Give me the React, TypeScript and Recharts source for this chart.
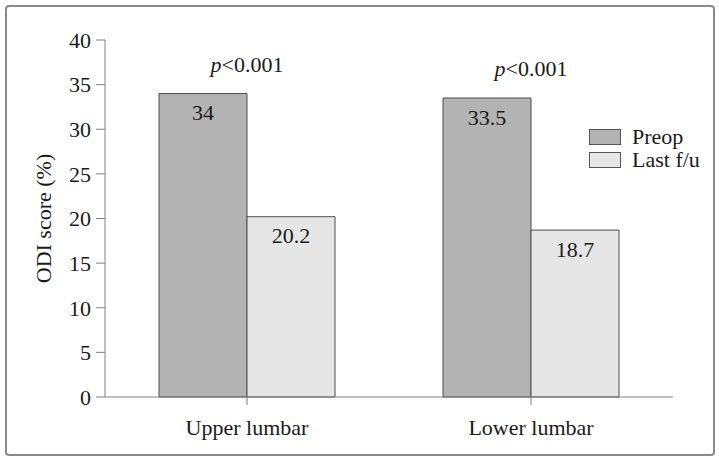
import React from 'react';
import { BarChart, Bar, XAxis, YAxis, Legend, LabelList, Label } from 'recharts';

const categories = ['Upper lumbar', 'Lower lumbar'];
const preopScores = [34, 33.5];
const lastFuScores = [20.2, 18.7];
const pLabels = ['<0.001', '<0.001'];
const yTicks = [0, 5, 10, 15, 20, 25, 30, 35, 40];

const FONT = '"Liberation Serif", "DejaVu Serif", serif';
const TEXT = '#1a1a1a';
const AXIS = '#808080';
const FS = 22;

const data = categories.map((name, i) => ({
  name,
  preop: preopScores[i],
  lastFu: lastFuScores[i],
  p: pLabels[i],
}));

const legendItems = [
  { label: 'Preop', color: '#b3b3b3' },
  { label: 'Last f/u', color: '#e6e6e6' },
];

function PLabel(props: any) {
  const { x, y, width, value } = props;
  return (
    <text x={x + width} y={y - 22} textAnchor="middle" fontFamily={FONT} fontSize={FS} fill={TEXT}>
      <tspan fontStyle="italic">p</tspan>
      {value}
    </text>
  );
}

function YTitle(props: any) {
  const { viewBox } = props;
  const cx = viewBox.x - 2;
  const cy = viewBox.y + viewBox.height / 2;
  return (
    <text
      x={cx}
      y={cy}
      transform={`rotate(-90, ${cx}, ${cy})`}
      textAnchor="middle"
      dominantBaseline="central"
      fontFamily={FONT}
      fontSize={FS}
      fill={TEXT}
    >
      ODI score (%)
    </text>
  );
}

function LegendBox() {
  return (
    <div style={{ fontFamily: FONT, fontSize: FS, color: TEXT }}>
      {legendItems.map((it) => (
        <div key={it.label} style={{ display: 'flex', alignItems: 'center', height: 23 }}>
          <span
            style={{
              display: 'inline-block',
              width: 30,
              height: 14,
              background: it.color,
              border: '1px solid #555',
              marginRight: 11,
            }}
          />
          <span>{it.label}</span>
        </div>
      ))}
    </div>
  );
}

export default function App() {
  return (
    <div style={{ position: 'absolute', left: 0, top: 0, width: 719, height: 460, background: '#fff' }}>
      <div
        style={{
          position: 'absolute',
          left: 5,
          top: 5,
          width: 706,
          height: 447,
          border: '2px solid #8a8a8a',
          borderRadius: 4,
        }}
      />
      <BarChart
        width={719}
        height={460}
        data={data}
        margin={{ top: 40, right: 46, left: 45, bottom: 23 }}
        barGap={0}
        style={{ position: 'absolute', left: 0, top: 0 }}
      >
        <XAxis
          dataKey="name"
          axisLine={{ stroke: AXIS }}
          tickLine={{ stroke: AXIS }}
          tickSize={8}
          tickMargin={14}
          height={40}
          tick={{ fontFamily: FONT, fontSize: FS, fill: TEXT }}
        />
        <YAxis
          domain={[0, 40]}
          ticks={yTicks}
          width={60}
          axisLine={{ stroke: AXIS }}
          tickLine={{ stroke: AXIS }}
          tickSize={9}
          tickMargin={5}
          tick={{ fontFamily: FONT, fontSize: FS, fill: TEXT }}
        >
          <Label content={<YTitle />} />
        </YAxis>
        <Legend
          layout="vertical"
          align="center"
          verticalAlign="middle"
          content={<LegendBox />}
          wrapperStyle={{ left: 589, top: 125, width: 130, height: 50 }}
        />
        <Bar dataKey="preop" name="Preop" fill="#b3b3b3" stroke="#4d4d4d" strokeWidth={1} barSize={88} isAnimationActive={false}>
          <LabelList dataKey="preop" position="insideTop" offset={11} style={{ fontFamily: FONT, fontSize: FS, fill: TEXT }} />
          <LabelList dataKey="p" content={<PLabel />} />
        </Bar>
        <Bar dataKey="lastFu" name="Last f/u" fill="#e6e6e6" stroke="#4d4d4d" strokeWidth={1} barSize={88} isAnimationActive={false}>
          <LabelList dataKey="lastFu" position="insideTop" offset={11} style={{ fontFamily: FONT, fontSize: FS, fill: TEXT }} />
        </Bar>
      </BarChart>
    </div>
  );
}
